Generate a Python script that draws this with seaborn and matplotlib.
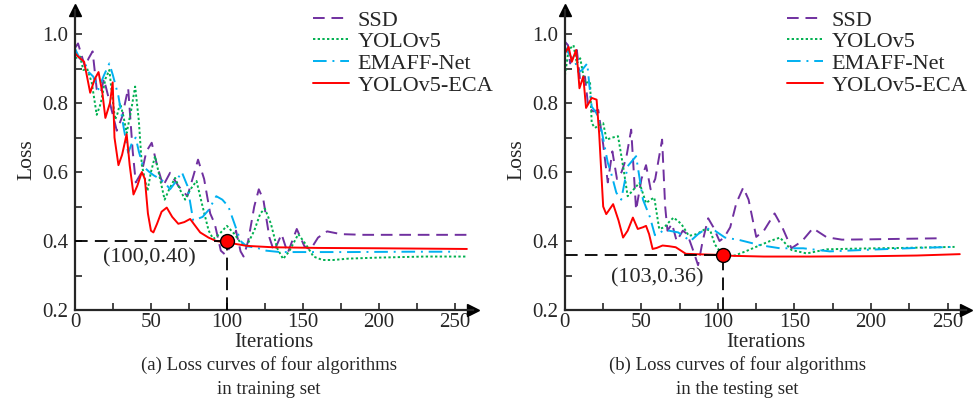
import matplotlib
matplotlib.use("Agg")
import matplotlib.pyplot as plt
import seaborn as sns
import pandas as pd

# ---- data: (a) training set ----
ssd_a_x = [0, 2, 6.6, 9, 11.6, 14.3, 17, 19, 23, 27.5, 31, 35, 38, 40, 44, 47, 50.5, 54, 58, 62.6, 68, 74, 78, 81,
           85, 89, 92, 96, 99, 103, 106, 109, 111, 114, 118, 121, 124, 128, 131, 136, 140, 146, 151, 155, 160, 166,
           175, 190, 220, 258]
ssd_a_y = [0.96, 0.973, 0.905, 0.93, 0.95, 0.84, 0.83, 0.87, 0.80, 0.72, 0.76, 0.843, 0.66, 0.57, 0.60, 0.66, 0.685,
           0.62, 0.56, 0.598, 0.56, 0.53, 0.59, 0.636, 0.58, 0.48, 0.45, 0.372, 0.36, 0.39, 0.43, 0.37, 0.355, 0.40,
           0.50, 0.55, 0.52, 0.41, 0.37, 0.42, 0.365, 0.435, 0.385, 0.375, 0.41, 0.428, 0.42, 0.418, 0.418, 0.418]

yolo_a_x = [0, 3.3, 5.5, 8, 11, 14.3, 17, 20, 22.6, 24.5, 26.4, 28, 29.7, 32, 34, 37, 39.6, 42, 44, 47.7, 50, 52.7,
            56, 59, 62, 65.9, 69, 72.5, 76, 80, 84, 88, 91, 95, 100, 105, 109, 113, 118, 122, 125, 129, 133, 137, 141,
            147, 152, 157, 163, 170, 180, 200, 230, 258]
yolo_a_y = [0.93, 0.935, 0.896, 0.90, 0.86, 0.766, 0.80, 0.87, 0.896, 0.82, 0.752, 0.77, 0.80, 0.76, 0.713, 0.78,
            0.848, 0.75, 0.62, 0.545, 0.60, 0.646, 0.58, 0.52, 0.55, 0.583, 0.55, 0.52, 0.55, 0.574, 0.50, 0.43, 0.406,
            0.42, 0.444, 0.42, 0.395, 0.386, 0.43, 0.48, 0.494, 0.45, 0.38, 0.348, 0.37, 0.42, 0.39, 0.355, 0.345,
            0.345, 0.349, 0.352, 0.355, 0.355]

emaff_a_x = [0, 3, 6.6, 9, 12, 15.4, 19, 22.6, 25, 28.6, 32, 35, 38, 40, 42, 44.8, 49, 52, 56, 59, 62.6, 66, 70.3,
             74, 77.8, 80, 84, 88, 93, 97, 101, 105, 109, 113, 120, 126, 135, 150, 180, 220, 251]
emaff_a_y = [0.958, 0.93, 0.915, 0.89, 0.877, 0.84, 0.88, 0.915, 0.88, 0.82, 0.73, 0.656, 0.69, 0.70, 0.66, 0.617,
             0.60, 0.59, 0.58, 0.57, 0.55, 0.57, 0.60, 0.56, 0.46, 0.463, 0.47, 0.49, 0.53, 0.52, 0.50, 0.45, 0.40,
             0.385, 0.38, 0.372, 0.368, 0.368, 0.368, 0.369, 0.369]

eca_a_x = [0, 2, 6, 10, 13, 15.5, 18, 20, 23, 24.8, 26, 28.6, 31, 34, 36, 38.5, 41, 44, 46, 48, 50, 51.6, 54, 57,
           60.4, 64, 68, 72, 75.8, 79, 82.4, 87.9, 93, 100, 113, 130, 160, 200, 258]
eca_a_y = [0.945, 0.935, 0.92, 0.83, 0.87, 0.89, 0.83, 0.757, 0.80, 0.86, 0.70, 0.62, 0.65, 0.71, 0.62, 0.535, 0.56,
           0.60, 0.58, 0.48, 0.43, 0.425, 0.45, 0.485, 0.497, 0.47, 0.45, 0.455, 0.464, 0.445, 0.425, 0.41, 0.40,
           0.396, 0.386, 0.382, 0.38, 0.379, 0.377]

# ---- data: (b) testing set ----
ssd_b_x = [0, 2, 3.4, 5, 7.8, 10, 13.1, 15.3, 18.5, 21.8, 25, 28, 31, 34, 37, 40, 43.3, 46.5, 50, 53, 56, 59, 63.5,
           65.5, 67, 70, 73, 77, 80, 84, 87, 90, 93.6, 97, 101, 104, 108, 112, 116.5, 120, 125, 130, 137, 142, 148,
           155, 162, 171, 181, 200, 245]
ssd_b_y = [0.978, 0.968, 0.915, 0.93, 0.954, 0.863, 0.877, 0.786, 0.776, 0.78, 0.68, 0.57, 0.66, 0.58, 0.60, 0.64,
           0.723, 0.49, 0.58, 0.62, 0.55, 0.58, 0.694, 0.50, 0.43, 0.45, 0.40, 0.43, 0.42, 0.37, 0.33, 0.40, 0.466,
           0.44, 0.40, 0.41, 0.44, 0.51, 0.555, 0.52, 0.412, 0.43, 0.48, 0.44, 0.379, 0.40, 0.437, 0.411, 0.404,
           0.405, 0.408]

yolo_b_x = [0, 2.4, 5.6, 7.8, 10, 13, 16.4, 17.5, 19.6, 22, 25, 27.2, 31, 34.7, 38, 41, 45, 48.7, 53, 56, 58.4, 60,
            61.6, 65, 68, 71, 76, 81, 86, 91.8, 95, 98, 102.6, 106, 111, 118, 127.5, 134, 140.5, 148, 158, 171, 190,
            220, 254.6]
yolo_b_y = [0.88, 0.954, 0.968, 0.915, 0.93, 0.858, 0.862, 0.742, 0.728, 0.735, 0.742, 0.694, 0.70, 0.704, 0.617,
            0.53, 0.55, 0.569, 0.51, 0.52, 0.526, 0.48, 0.435, 0.44, 0.455, 0.468, 0.45, 0.415, 0.42, 0.435, 0.43,
            0.39, 0.362, 0.358, 0.358, 0.37, 0.388, 0.40, 0.41, 0.374, 0.364, 0.376, 0.378, 0.38, 0.383]

emaff_b_x = [0, 3, 6.7, 8.8, 11, 14.6, 16, 17.5, 20.7, 24, 28, 30, 33.6, 36.8, 41, 46.5, 51, 55.5, 58.8, 61, 64, 68,
             74, 82, 87, 92.6, 98, 104.6, 114, 119.4, 127.5, 140.5, 155.7, 173, 200, 230, 254.6]
emaff_b_y = [0.963, 0.94, 0.92, 0.89, 0.895, 0.915, 0.85, 0.79, 0.77, 0.72, 0.627, 0.60, 0.54, 0.52, 0.617, 0.646,
             0.52, 0.47, 0.417, 0.42, 0.43, 0.43, 0.425, 0.40, 0.42, 0.437, 0.43, 0.41, 0.403, 0.397, 0.388, 0.379,
             0.379, 0.37, 0.375, 0.38, 0.383]

eca_b_x = [0, 2.4, 4.5, 7.3, 8.5, 9.5, 12, 13.8, 17.5, 20.7, 22.4, 24, 25, 27, 31.5, 35, 38, 41, 44.4, 47.6, 51, 53,
           55, 57.3, 60, 63.8, 68, 72.4, 79, 85, 92, 100, 110, 130, 160, 200, 230, 258]
eca_b_y = [0.944, 0.963, 0.92, 0.954, 0.90, 0.843, 0.877, 0.786, 0.815, 0.81, 0.71, 0.58, 0.50, 0.478, 0.507, 0.46,
           0.41, 0.43, 0.468, 0.435, 0.44, 0.444, 0.42, 0.377, 0.38, 0.387, 0.385, 0.382, 0.363, 0.362, 0.361, 0.36,
           0.357, 0.355, 0.355, 0.356, 0.358, 0.362]

labels = ["SSD", "YOLOv5", "EMAFF-Net", "YOLOv5-ECA"]
colors = ["#7030A0", "#00B050", "#00B0F0", "#FF0000"]
styles = [(0, (6, 3.5)), (0, (1.2, 1.2)), (0, (7, 3, 1, 3)), "-"]

best_a = (100, 0.40)
best_b = (103, 0.36)

sns.set_style("ticks")
plt.rcParams["font.family"] = ["Liberation Serif", "DejaVu Serif"]

fig = plt.figure(figsize=(9.74, 4.0), dpi=100)
ax_a = fig.add_axes([0.077, 0.225, 0.4086, 0.75])
ax_b = fig.add_axes([0.580, 0.225, 0.4117, 0.75])

panels = [
    (ax_a, [(ssd_a_x, ssd_a_y), (yolo_a_x, yolo_a_y), (emaff_a_x, emaff_a_y), (eca_a_x, eca_a_y)], best_a,
     "(100,0.40)", (49, 0.35), 0.598),
    (ax_b, [(ssd_b_x, ssd_b_y), (yolo_b_x, yolo_b_y), (emaff_b_x, emaff_b_y), (eca_b_x, eca_b_y)], best_b,
     "(103,0.36)", (60, 0.293), 0.554),
]

for ax, series, best, best_txt, txt_pos, leg_x in panels:
    for (xs, ys), lab, col, ls in zip(series, labels, colors, styles):
        df = pd.DataFrame({"Iterations": xs, "Loss": ys})
        sns.lineplot(data=df, x="Iterations", y="Loss", ax=ax, color=col, linestyle=ls,
                     linewidth=1.4, label=lab, estimator=None)

    # best-point guide lines and marker
    ax.plot([0, best[0]], [best[1], best[1]], color="black", linestyle=(0, (7, 4)), linewidth=1.3, zorder=5)
    ax.plot([best[0], best[0]], [0.2, best[1]], color="black", linestyle=(0, (7, 4)), linewidth=1.3, zorder=5)
    ax.plot(best[0], best[1], marker="o", markersize=10, markerfacecolor="#FF0000",
            markeredgecolor="black", markeredgewidth=1.0, zorder=6, clip_on=False)
    ax.text(txt_pos[0], txt_pos[1], best_txt, ha="center", va="center", fontsize=16)

    ax.set_xlim(0, 262)
    ax.set_ylim(0.2, 1.07)
    ax.set_xticks([0, 50, 100, 150, 200, 250])
    ax.set_xticks([25, 75, 125, 175, 225], minor=True)
    ax.set_yticks([0.2, 0.4, 0.6, 0.8, 1.0])
    ax.set_yticklabels(["0.2", "0.4", "0.6", "0.8", "1.0"])
    ax.set_yticks([0.3, 0.5, 0.7, 0.9], minor=True)
    ax.tick_params(which="both", direction="in", length=5, width=1.2, labelsize=15)
    ax.tick_params(axis="x", pad=2)
    ax.tick_params(axis="y", pad=5)
    ax.set_xlabel("Iterations", fontsize=15, labelpad=1)
    ax.set_ylabel("Loss", fontsize=15.5, labelpad=4)
    sns.despine(ax=ax)
    for sp in ["left", "bottom"]:
        ax.spines[sp].set_linewidth(1.6)
    # axis arrows
    ax.plot(1, 0.2, marker=">", markersize=8, color="black", transform=ax.get_yaxis_transform(), clip_on=False)
    ax.plot(0, 1, marker="^", markersize=8, color="black", transform=ax.get_xaxis_transform(), clip_on=False)

    ax.legend(loc="upper left", bbox_to_anchor=(leg_x, 1.0), frameon=False, fontsize=16,
              handlelength=1.6, handletextpad=0.4, labelspacing=0.05, borderpad=0, borderaxespad=0)

fig.text(0.276, 0.088, "(a) Loss curves of four algorithms", ha="center", va="center", fontsize=13.5)
fig.text(0.276, 0.027, "in training set", ha="center", va="center", fontsize=13.5)
fig.text(0.757, 0.088, "(b) Loss curves of four algorithms", ha="center", va="center", fontsize=13.5)
fig.text(0.757, 0.027, "in the testing set", ha="center", va="center", fontsize=13.5)

fig.savefig("out.png", dpi=100)
